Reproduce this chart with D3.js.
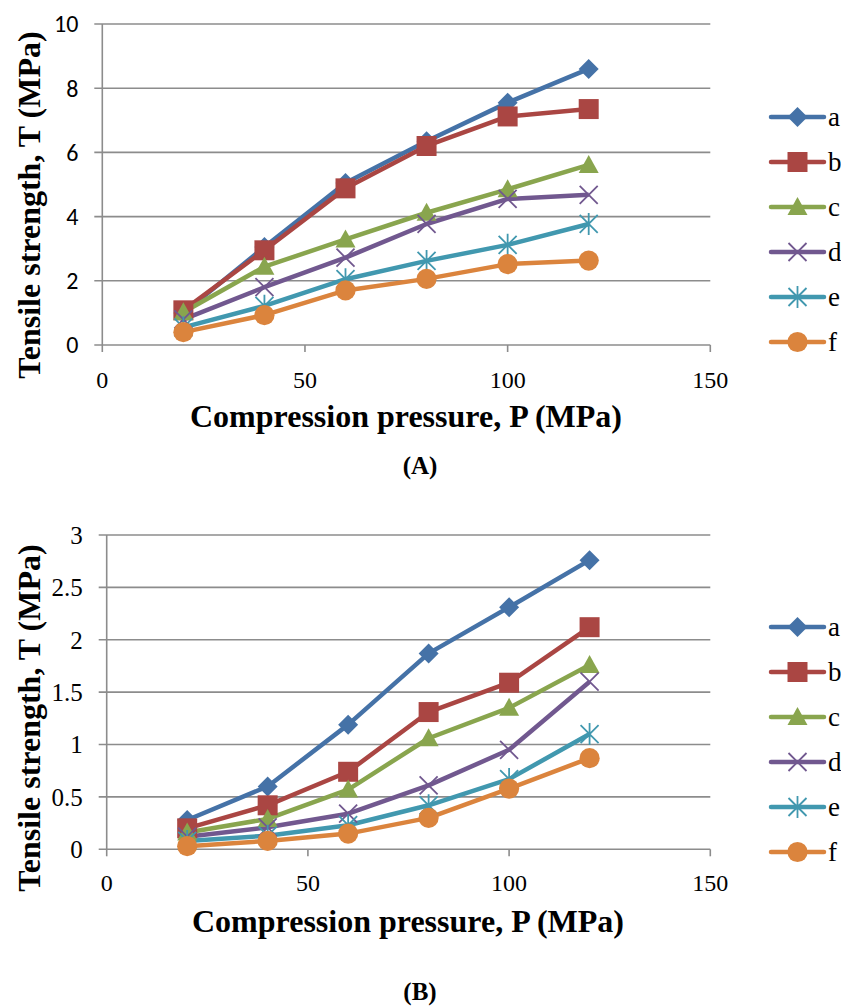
<!DOCTYPE html>
<html><head><meta charset="utf-8">
<script src="https://cdn.jsdelivr.net/npm/d3@7"></script>
<style>body{margin:0;background:#fff}svg{display:block}</style>
</head><body>
<svg id="c" width="841" height="1006"></svg>
<script>
const pressures = [20, 40, 60, 80, 100, 120];
const seriesNames = ["a", "b", "c", "d", "e", "f"];
const colors = ["#4572A7", "#AA4643", "#89A54E", "#71588F", "#4198AF", "#DB843D"];
const markers = ["diamond", "square", "triangle", "x", "star", "circle"];

const valuesA_a = [1.0, 3.05, 5.05, 6.35, 7.55, 8.6];
const valuesA_b = [1.08, 2.95, 4.88, 6.2, 7.12, 7.35];
const valuesA_c = [1.02, 2.44, 3.29, 4.12, 4.85, 5.61];
const valuesA_d = [0.8, 1.8, 2.72, 3.77, 4.55, 4.68];
const valuesA_e = [0.55, 1.22, 2.05, 2.62, 3.12, 3.77];
const valuesA_f = [0.4, 0.93, 1.7, 2.06, 2.52, 2.63];

const valuesB_a = [0.28, 0.6, 1.19, 1.87, 2.31, 2.76];
const valuesB_b = [0.2, 0.42, 0.74, 1.31, 1.59, 2.12];
const valuesB_c = [0.16, 0.29, 0.57, 1.06, 1.35, 1.76];
const valuesB_d = [0.12, 0.21, 0.34, 0.61, 0.95, 1.6];
const valuesB_e = [0.08, 0.13, 0.23, 0.42, 0.67, 1.1];
const valuesB_f = [0.03, 0.08, 0.15, 0.3, 0.58, 0.87];

const xTicks = [0, 50, 100, 150];
const yTicksA = [0, 2, 4, 6, 8, 10];
const yTicksB = [0, 0.5, 1, 1.5, 2, 2.5, 3];

const xTitle = "Compression pressure, P (MPa)";
const yTitle = "Tensile strength, T (MPa)";

const svg = d3.select("#c");
const serif = "'Liberation Serif','Times New Roman',serif";
const sans = "Carlito,'Liberation Sans',Arial,sans-serif";

function markerPath(type){
  switch(type){
    case "diamond": return "M0,-10L10,0L0,10L-10,0Z";
    case "square": return "M-10,-10H10V10H-10Z";
    case "triangle": return "M0,-10L10,8L-10,8Z";
    case "circle": return d3.symbol(d3.symbolCircle, 320)();
    case "x": return "M-9,-9L9,9M-9,9L9,-9";
    case "star": return "M-9,-9L9,9M-9,9L9,-9M0,-11V11";
  }
}
function drawMarker(g, type, color, x, y){
  const p = g.append("path").attr("d", markerPath(type)).attr("transform", `translate(${x},${y})`);
  if (type === "x" || type === "star") p.attr("fill","none").attr("stroke",color).attr("stroke-width",1.8);
  else p.attr("fill",color).attr("stroke","none");
}

function chart(cfg){
  const g = svg.append("g");
  const x = d3.scaleLinear().domain([0,150]).range([cfg.x0, cfg.x1]);
  const y = d3.scaleLinear().domain([0, cfg.ymax]).range([cfg.y0, cfg.y1]);
  g.selectAll(".grid").data(cfg.yTicks).join("line")
    .attr("x1", cfg.x0 - 8).attr("x2", cfg.x1)
    .attr("y1", d => y(d)).attr("y2", d => y(d))
    .attr("stroke", "#8c8c8c").attr("stroke-width", 1.6);
  g.append("line").attr("x1", cfg.x0).attr("x2", cfg.x0).attr("y1", cfg.y0).attr("y2", cfg.y1)
    .attr("stroke", "#8c8c8c").attr("stroke-width", 1.6);
  g.selectAll(".xt").data(xTicks).join("line")
    .attr("x1", d => x(d)).attr("x2", d => x(d)).attr("y1", cfg.y0).attr("y2", cfg.y0 + 7)
    .attr("stroke", "#8c8c8c").attr("stroke-width", 1.6);
  g.selectAll(".yl").data(cfg.yTicks).join("text")
    .attr("x", cfg.x0 - 24).attr("y", d => y(d)).attr("dy", "0.35em")
    .attr("text-anchor", "end").attr("font-family", cfg.yFont).attr("font-size", cfg.yFontSize)
    .text(d => d);
  g.selectAll(".xl").data(xTicks).join("text")
    .attr("x", d => x(d)).attr("y", cfg.y0 + cfg.xLabelOff).attr("dy", "0.35em")
    .attr("text-anchor", "middle").attr("font-family", serif).attr("font-size", 24)
    .text(d => d);
  g.append("text").attr("x", cfg.xTitleX).attr("y", cfg.xTitleY).attr("text-anchor","middle")
    .attr("font-family", serif).attr("font-weight","bold").attr("font-size", 32).text(xTitle);
  g.append("text").attr("transform", `translate(${cfg.yTitleX},${cfg.yTitleY}) rotate(-90)`)
    .attr("text-anchor","middle").attr("font-family", serif).attr("font-weight","bold")
    .attr("font-size", 32).text(yTitle);
  const line = d3.line().x((d,i) => x(pressures[i])).y(d => y(d));
  cfg.series.forEach((vals, si) => {
    g.append("path").datum(vals).attr("d", line).attr("fill","none")
      .attr("stroke", colors[si]).attr("stroke-width", 4.5).attr("stroke-linejoin","round");
  });
  cfg.series.forEach((vals, si) => {
    vals.forEach((v,i) => drawMarker(g, markers[si], colors[si], x(pressures[i]), y(v)));
  });
  seriesNames.forEach((n, si) => {
    const ly = cfg.legendY + si * 45;
    g.append("line").attr("x1", 771).attr("x2", 824).attr("y1", ly).attr("y2", ly)
      .attr("stroke", colors[si]).attr("stroke-width", 4.5).attr("stroke-linecap","round");
    drawMarker(g, markers[si], colors[si], 797.5, ly);
    g.append("text").attr("x", 828).attr("y", ly).attr("dy","0.35em")
      .attr("font-family", serif).attr("font-size", 27).text(n);
  });
  g.append("text").attr("x", cfg.panelX).attr("y", cfg.panelY).attr("text-anchor","middle")
    .attr("font-family", serif).attr("font-weight","bold").attr("font-size", 25).text(cfg.panel);
}

chart({x0:102.3, x1:710.3, y0:345, y1:24, ymax:10, yTicks:yTicksA, yFont:sans, yFontSize:24,
  xLabelOff:35, xTitleX:406, xTitleY:427, yTitleX:40, yTitleY:205,
  series:[valuesA_a,valuesA_b,valuesA_c,valuesA_d,valuesA_e,valuesA_f],
  legendY:117, panel:"(A)", panelX:420, panelY:474});

chart({x0:106.7, x1:710.3, y0:849.3, y1:535, ymax:3, yTicks:yTicksB, yFont:serif, yFontSize:25,
  xLabelOff:33, xTitleX:408, xTitleY:932, yTitleX:40, yTitleY:718,
  series:[valuesB_a,valuesB_b,valuesB_c,valuesB_d,valuesB_e,valuesB_f],
  legendY:627, panel:"(B)", panelX:420, panelY:1000});
</script>
</body></html>
